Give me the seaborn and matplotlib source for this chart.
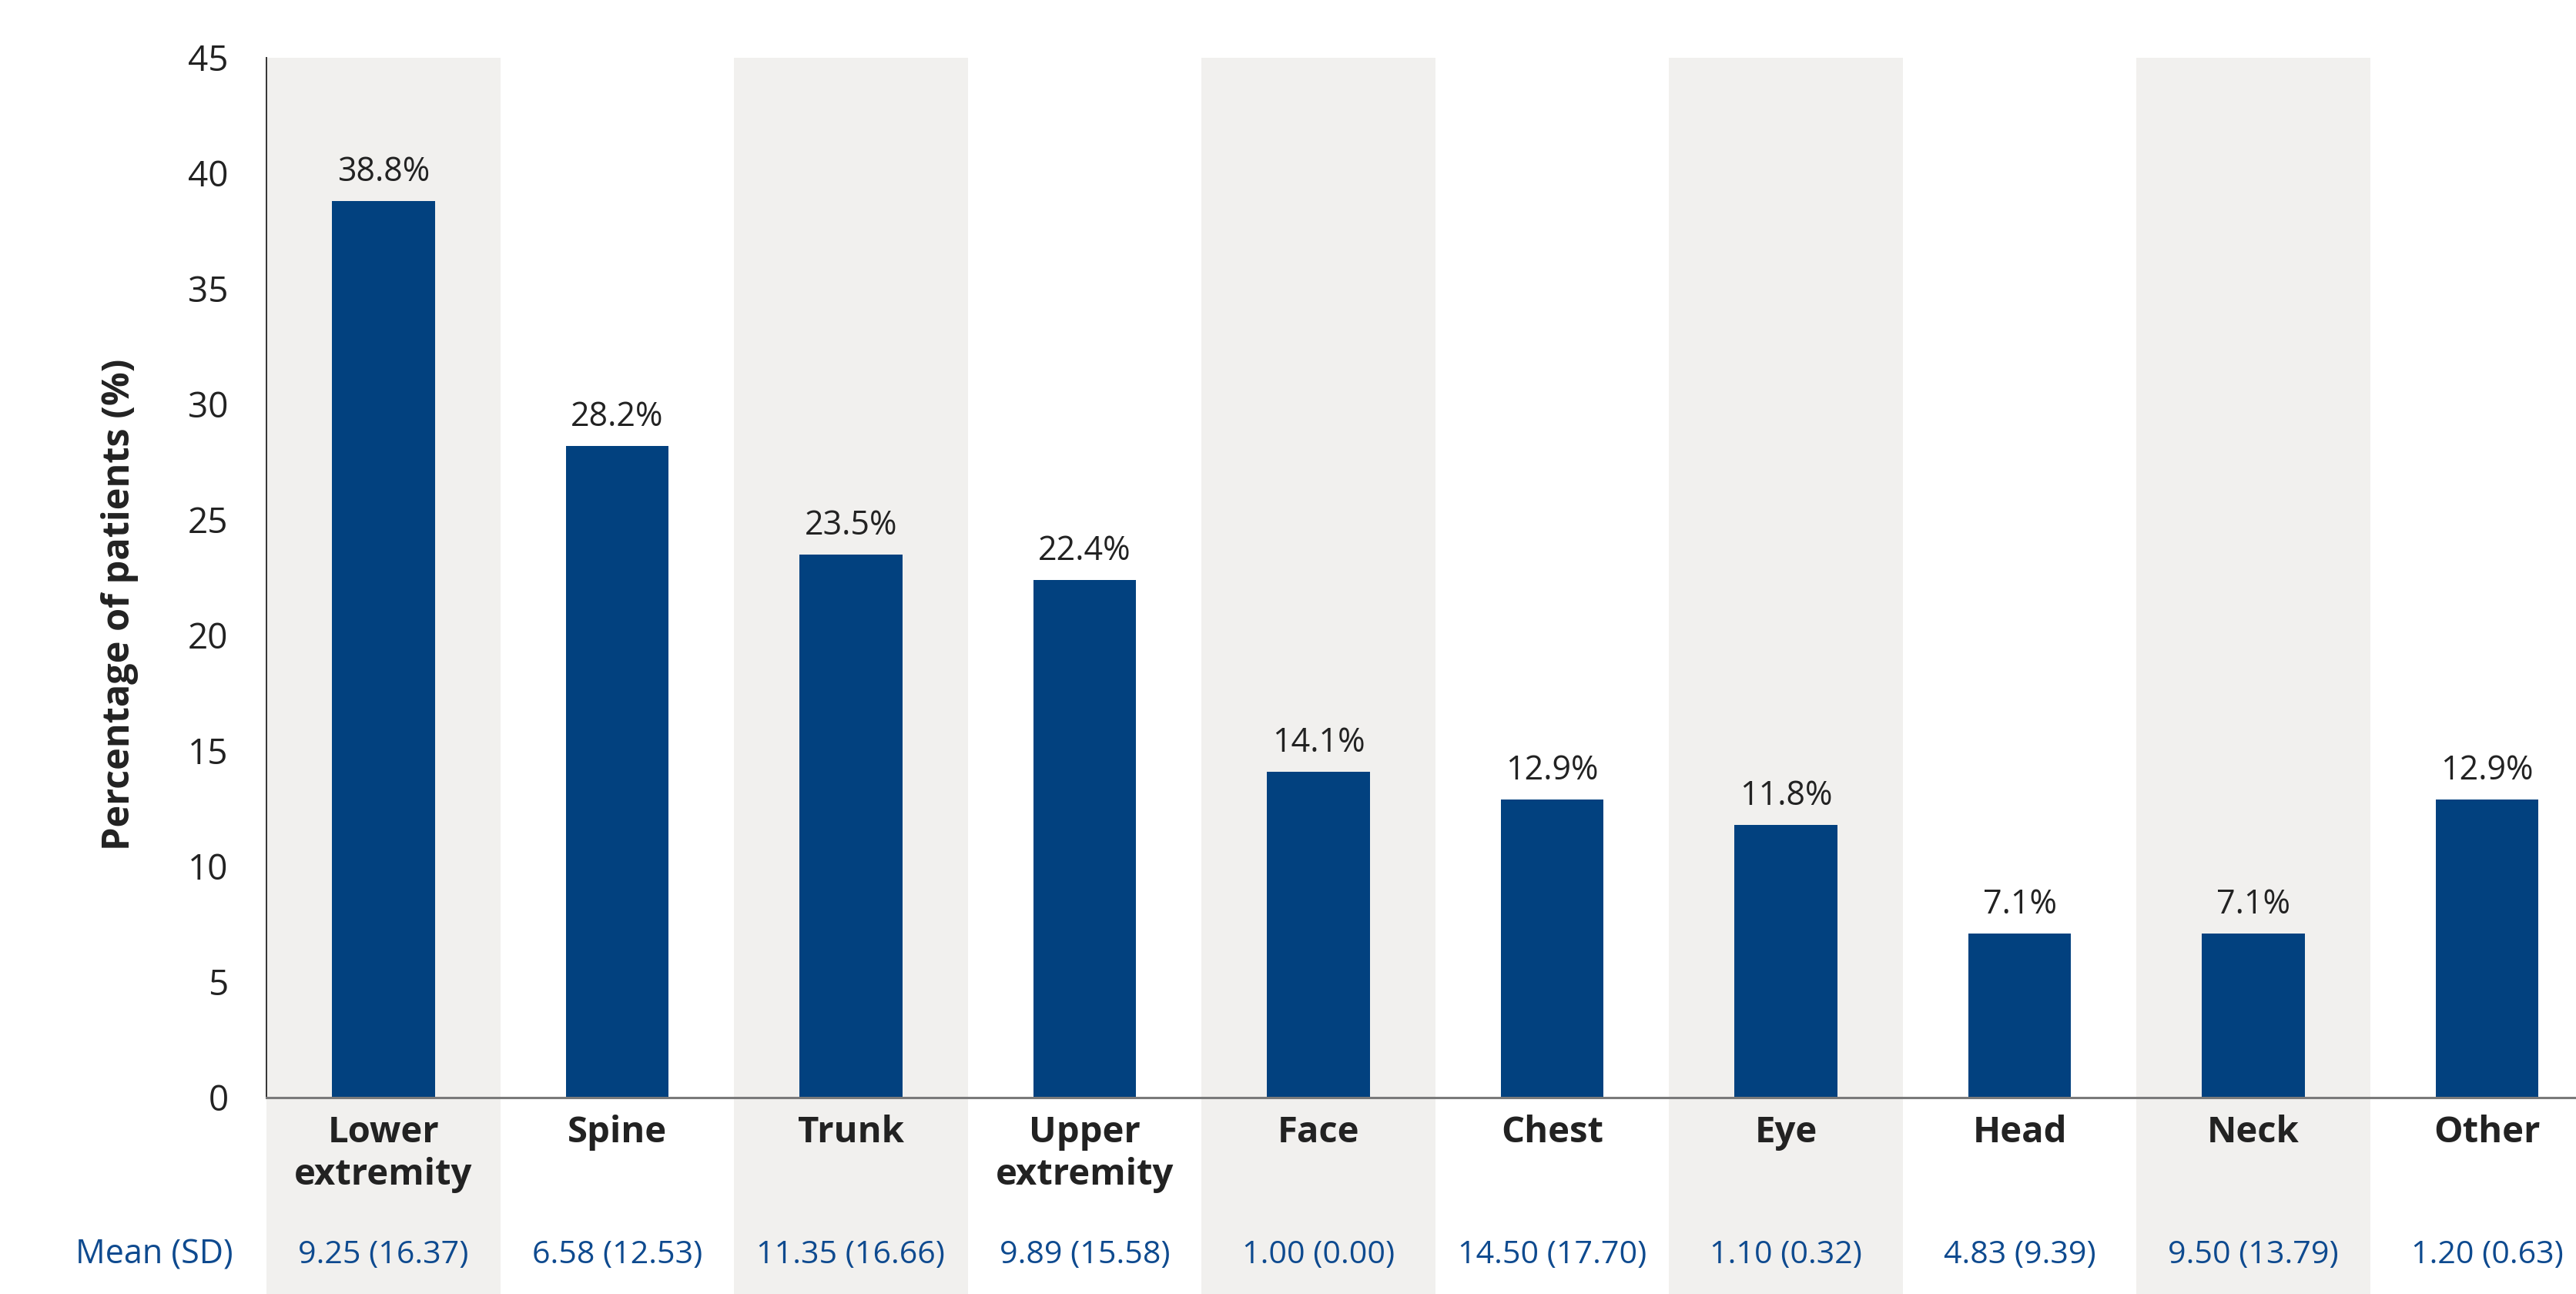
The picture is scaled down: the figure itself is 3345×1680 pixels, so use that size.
import matplotlib
matplotlib.use("Agg")
import matplotlib.pyplot as plt
from matplotlib.patches import Rectangle
import seaborn as sns
import numpy as np

categories = ["Lower\nextremity", "Spine", "Trunk", "Upper\nextremity", "Face",
              "Chest", "Eye", "Head", "Neck", "Other"]
percentages = [38.8, 28.2, 23.5, 22.4, 14.1, 12.9, 11.8, 7.1, 7.1, 12.9]
value_labels = ["38.8%", "28.2%", "23.5%", "22.4%", "14.1%", "12.9%", "11.8%", "7.1%", "7.1%", "12.9%"]
mean_sd = ["9.25 (16.37)", "6.58 (12.53)", "11.35 (16.66)", "9.89 (15.58)", "1.00 (0.00)",
           "14.50 (17.70)", "1.10 (0.32)", "4.83 (9.39)", "9.50 (13.79)", "1.20 (0.63)"]
y_ticks = [0, 5, 10, 15, 20, 25, 30, 35, 40, 45]

BAR = "#02417f"
BAND = "#f1f0ee"
DARK = "#222222"
BLUE_TXT = "#0e4a8f"

sns.set_style("white")
plt.rcParams["font.family"] = ["Open Sans", "DejaVu Sans"]

fig = plt.figure(figsize=(16.725, 8.4), dpi=200)
ax = fig.add_axes([346 / 3345, 1 - 1425 / 1680, 1 - 346 / 3345, 1350 / 1680])

n = len(categories)
xpos = list(range(n))
sns.barplot(x=xpos, y=percentages, color=BAR, saturation=1, width=0.44, ax=ax,
            linewidth=0, edgecolor="none", zorder=3)

ax.set_xlim(-0.5, 9.38)
ax.set_ylim(0, 45)

# alternating background bands extending below the axes to the figure bottom
trans = ax.get_xaxis_transform()
ext = (1680 - 1425) / 1350
for i in range(n):
    if i % 2 == 0:
        ax.add_patch(Rectangle((i - 0.5, -ext), 1.0, 1 + ext,
                               transform=trans, facecolor=BAND, edgecolor="none",
                               zorder=0, clip_on=False))

# value labels
for i, (v, lab) in enumerate(zip(percentages, value_labels)):
    ax.annotate(lab, (i, v), xytext=(0, 9.5), textcoords="offset points",
                ha="center", va="baseline", fontsize=15.5, color=DARK, zorder=4)

# x tick labels
ax.set_xticks(xpos)
ax.set_xticklabels(categories, fontsize=17, fontweight="bold", color=DARK, linespacing=1.22)
ax.tick_params(axis="x", which="major", length=0, pad=8)
ax.set_xticks(np.arange(-0.5, 9, 1), minor=True)
ax.tick_params(axis="x", which="minor", length=8.5, width=0.7, color="#333333", direction="out")

# y ticks
ax.set_yticks(y_ticks)
ax.set_yticklabels([str(t) for t in y_ticks], fontsize=16.5, color=DARK)
ax.tick_params(axis="y", length=8.3, width=0.7, color="#333333", pad=9.5, direction="out")

ax.set_ylabel("Percentage of patients (%)", fontsize=17.5, fontweight="bold", color=DARK)
ax.yaxis.set_label_coords(-0.0634, 0.474)
ax.yaxis.label.set_va("center")

# spines
for s in ["top", "right"]:
    ax.spines[s].set_visible(False)
ax.spines["left"].set_color("#333333")
ax.spines["left"].set_linewidth(0.7)
ax.spines["bottom"].set_color("#7a7a7a")
ax.spines["bottom"].set_linewidth(1.1)
ax.spines["left"].set_zorder(5)
ax.spines["bottom"].set_zorder(5)

# Mean (SD) row
mean_y = -(1640 - 1425) / 1350
ax.text(-0.98, mean_y, "Mean (SD)", transform=trans, ha="center", va="baseline",
        fontsize=15.5, color=BLUE_TXT, clip_on=False)
for i, txt in enumerate(mean_sd):
    ax.text(i, mean_y, txt, transform=trans, ha="center", va="baseline",
            fontsize=14.8, color=BLUE_TXT, clip_on=False)

ax.set_facecolor("white")
ax.grid(False)
fig.savefig("out.png", dpi=200, facecolor="white")
